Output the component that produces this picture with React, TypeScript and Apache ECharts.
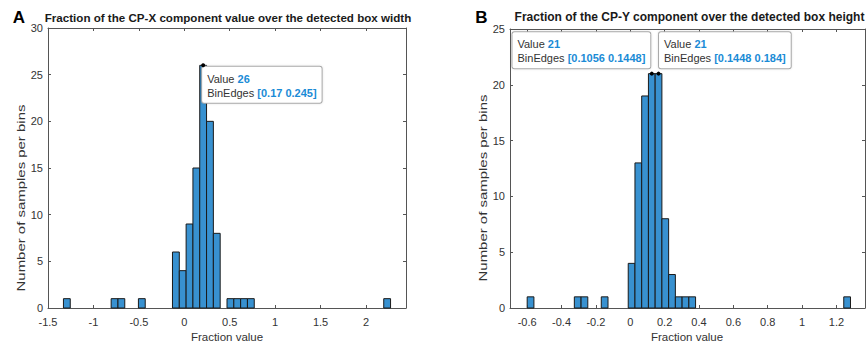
import React, { useEffect, useRef } from "react";
import * as echarts from "echarts";

// Panel A: fraction of CP-X component over box width
const binWidthA = 0.075;
const binLeftA = [-1.33, -0.805, -0.73, -0.505, -0.13, -0.055, 0.02, 0.095, 0.17, 0.245, 0.32, 0.47, 0.545, 0.62, 0.695, 2.195];
const countsA = [1, 1, 1, 1, 6, 4, 9, 15, 26, 20, 8, 1, 1, 1, 1, 1];
const xTicksA = [-1.5, -1, -0.5, 0, 0.5, 1, 1.5, 2];
const yTicksA = [0, 5, 10, 15, 20, 25, 30];

// Panel B: fraction of CP-Y component over box height
const binWidthB = 0.0392;
const binLeftB = [-0.6, -0.3256, -0.2864, -0.1688, -0.012, 0.0272, 0.0664, 0.1056, 0.1448, 0.184, 0.2232, 0.2624, 0.3016, 0.3408, 1.2424];
const countsB = [1, 1, 1, 1, 4, 13, 19, 21, 21, 8, 3, 1, 1, 1, 1];
const xTicksB = [-0.6, -0.4, -0.2, 0, 0.2, 0.4, 0.6, 0.8, 1, 1.2];
const yTicksB = [0, 5, 10, 15, 20, 25];

// Data tips: [lower edge, upper edge, value]
const tipsA = [[0.17, 0.245, 26]];
const tipsAPlace = ["br"];
const tipsB = [[0.1056, 0.1448, 21], [0.1448, 0.184, 21]];
const tipsBPlace = ["tl", "tr"];

const titleA = "Fraction of the CP-X component value over the detected box width";
const titleB = "Fraction of the CP-Y component over the detected box height";
const yName = "Number of samples per bins";
const xName = "Fraction value";

const FONT = '"Liberation Sans", Arial, Helvetica, sans-serif';
const BAR = "#3891d0";
const EDGE = "#1a1a1a";
const AXIS = "#555555";
const LABEL = "#333333";
const TIPBLUE = "#1a8bd6";

const fmt = (v: number) => String(Math.round(v * 10000) / 10000);

function xAxes(min: number, max: number, ticks: number[], grid: number) {
  const common = {
    type: "value",
    gridIndex: grid,
    min,
    max,
    splitLine: { show: false },
    axisLine: { show: true, onZero: false, lineStyle: { color: AXIS, width: 1 } },
    axisTick: { show: true, inside: true, length: 3, customValues: ticks, lineStyle: { color: AXIS } },
  };
  return [
    {
      ...common,
      position: "bottom",
      axisLabel: {
        show: true,
        customValues: ticks,
        formatter: (v: number) => fmt(v),
        color: LABEL,
        fontFamily: FONT,
        fontSize: 11,
        margin: 8,
      },
    },
    { ...common, position: "top", axisLabel: { show: false } },
  ];
}

function yAxes(max: number, ticks: number[], grid: number) {
  const common = {
    type: "value",
    gridIndex: grid,
    min: 0,
    max,
    interval: 5,
    splitLine: { show: false },
    axisLine: { show: true, onZero: false, lineStyle: { color: AXIS, width: 1 } },
    axisTick: { show: true, inside: true, length: 3, customValues: ticks, lineStyle: { color: AXIS } },
  };
  return [
    {
      ...common,
      position: "left",
      axisLabel: {
        show: true,
        customValues: ticks,
        formatter: (v: number) => fmt(v),
        color: LABEL,
        fontFamily: FONT,
        fontSize: 11,
        margin: 5,
      },
    },
    { ...common, position: "right", axisLabel: { show: false } },
  ];
}

function barSeries(left: number[], counts: number[], width: number, axis: number) {
  return {
    type: "custom",
    xAxisIndex: axis,
    yAxisIndex: axis,
    encode: { x: [0, 1], y: 2 },
    data: left.map((l, i) => [l, Math.round((l + width) * 10000) / 10000, counts[i]]),
    renderItem: (params: any, api: any) => {
      const lo = api.value(0);
      const hi = api.value(1);
      const c = api.value(2);
      const p0 = api.coord([lo, 0]);
      const p1 = api.coord([hi, c]);
      return {
        type: "rect",
        shape: { x: p0[0], y: p1[1], width: p1[0] - p0[0], height: p0[1] - p1[1] },
        style: { fill: BAR, stroke: EDGE, lineWidth: 1 },
      };
    },
    z: 2,
  };
}

function tipSeries(tips: number[][], places: string[], axis: number) {
  return {
    type: "custom",
    xAxisIndex: axis,
    yAxisIndex: axis,
    encode: { x: [0, 1], y: 2 },
    data: tips,
    renderItem: (params: any, api: any) => {
      const lo = api.value(0);
      const hi = api.value(1);
      const v = api.value(2);
      const place = places[params.dataIndex];
      const pt = api.coord([(lo + hi) / 2, v]);
      let x = pt[0] - 1;
      let y = pt[1] + 1.5;
      let align = "left";
      let vAlign = "top";
      if (place === "tl") {
        x = pt[0] - 1.5;
        y = pt[1] - 5.5;
        align = "right";
        vAlign = "bottom";
      } else if (place === "tr") {
        x = pt[0] + 0.5;
        y = pt[1] - 5.5;
        align = "left";
        vAlign = "bottom";
      }
      return {
        type: "group",
        children: [
          {
            type: "text",
            x,
            y,
            z2: 10,
            style: {
              text: `{l|Value }{n|${fmt(v)}}\n{l|BinEdges }{n|[${fmt(lo)} ${fmt(hi)}]}`,
              align,
              verticalAlign: vAlign,
              backgroundColor: "#ffffff",
              borderColor: "#a8a8a8",
              borderWidth: 1,
              borderRadius: 2,
              padding: [5, 5, 3, 5],
              shadowColor: "rgba(0,0,0,0.12)",
              shadowBlur: 2,
              rich: {
                l: { fontFamily: FONT, fontSize: 11, fill: "#333333", lineHeight: 14, align: "left" },
                n: { fontFamily: FONT, fontSize: 11, fontWeight: "bold", fill: TIPBLUE, lineHeight: 14, align: "left" },
              },
            },
          },
          {
            type: "circle",
            z2: 11,
            shape: { cx: pt[0], cy: pt[1], r: 2 },
            style: { fill: "#000000" },
          },
        ],
      };
    },
    z: 5,
  };
}

function txt(x: number, y: number, text: string, size: number, weight: string, rot = 0, color = "#1a1a1a", sx = 1) {
  return {
    type: "text",
    x,
    y,
    rotation: rot,
    scaleX: sx,
    style: {
      text,
      fontFamily: FONT,
      fontSize: size,
      fontWeight: weight,
      fill: color,
      align: "center",
      verticalAlign: "middle",
    },
  };
}

export default function App() {
  const ref = useRef<HTMLDivElement>(null);
  useEffect(() => {
    if (!ref.current) return;
    const chart = echarts.init(ref.current, undefined, { renderer: "svg" });
    const option = {
      animation: false,
      backgroundColor: "#ffffff",
      grid: [
        { left: 48, top: 28, width: 358, height: 280 },
        { left: 510, top: 29, width: 355, height: 279 },
      ],
      xAxis: [...xAxes(-1.5, 2.44, xTicksA, 0), ...xAxes(-0.7, 1.366, xTicksB, 1)],
      yAxis: [...yAxes(30, yTicksA, 0), ...yAxes(25, yTicksB, 1)],
      series: [
        barSeries(binLeftA, countsA, binWidthA, 0),
        barSeries(binLeftB, countsB, binWidthB, 2),
        tipSeries(tipsA, tipsAPlace, 0),
        tipSeries(tipsB, tipsBPlace, 2),
      ],
      graphic: [
        txt(19, 17.5, "A", 17, "bold", 0, "#000000"),
        txt(481.5, 17.5, "B", 17, "bold", 0, "#000000"),
        txt(228, 17, titleA, 11.6, "bold"),
        txt(689.5, 17, titleB, 12, "bold"),
        txt(21, 198, yName, 11.5, "normal", Math.PI / 2, LABEL, 1.3),
        txt(483, 188, yName, 11.5, "normal", Math.PI / 2, LABEL, 1.3),
        txt(227, 337, xName, 11.5, "normal", 0, LABEL),
        txt(687, 337, xName, 11.5, "normal", 0, LABEL),
      ],
    };
    chart.setOption(option as any);
    return () => chart.dispose();
  }, []);
  return (
    <div
      ref={ref}
      style={{ position: "fixed", left: 0, top: 0, width: 868, height: 350, background: "#fff" }}
    />
  );
}
